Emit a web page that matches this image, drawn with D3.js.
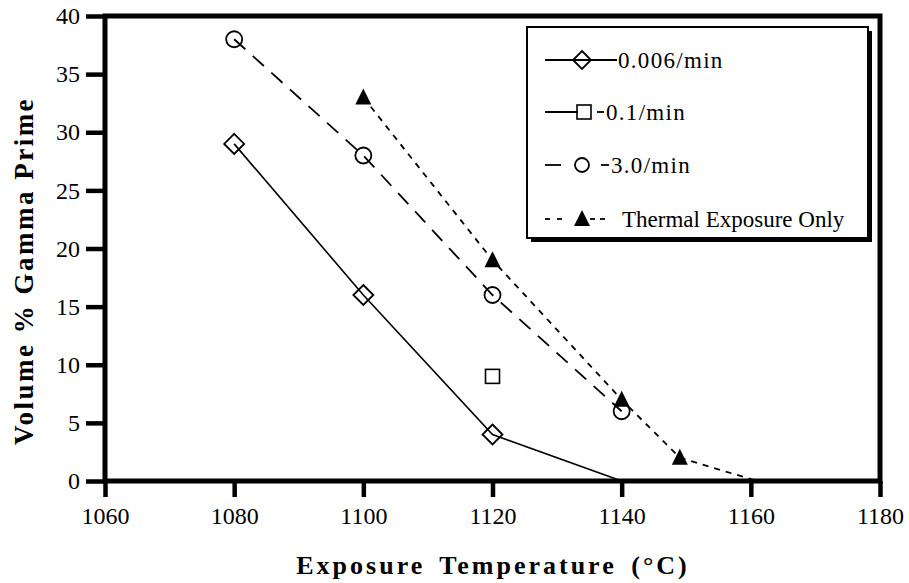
<!DOCTYPE html>
<html><head><meta charset="utf-8">
<script src="https://cdn.jsdelivr.net/npm/d3@7/dist/d3.min.js"></script>
<style>body{margin:0;background:#fff}svg{display:block}</style>
</head><body>
<script>
const xTicks = [1060,1080,1100,1120,1140,1160,1180];
const yTicks = [0,5,10,15,20,25,30,35,40];
const seriesNames = ["0.006/min","0.1/min","3.0/min","Thermal Exposure Only"];
const slowTemp = [1080,1100,1120,1140];
const slowVal  = [29,16,4,0];
const midTemp  = [1120];
const midVal   = [9];
const fastTemp = [1080,1100,1120,1140];
const fastVal  = [38,28,16,6];
const thermTemp = [1100,1120,1140,1149,1161];
const thermVal  = [33,19,7,2,0];

const W=909,H=583;
const svg=d3.select("body").append("svg").attr("width",W).attr("height",H);
const x=d3.scaleLinear().domain([1060,1180]).range([105,880]);
const y=d3.scaleLinear().domain([0,40]).range([481,16]);
const font="'Liberation Serif','Times New Roman',serif";

// frame
svg.append("rect").attr("x",x(1060)).attr("y",y(40)).attr("width",x(1180)-x(1060)).attr("height",y(0)-y(40))
  .attr("fill","none").attr("stroke","#000").attr("stroke-width",5);

// axes
const yAxis=d3.axisLeft(y).tickValues(yTicks).tickSize(19).tickPadding(6);
const gy=svg.append("g").attr("transform",`translate(${x(1060)},0)`).call(yAxis);
gy.select(".domain").remove();
gy.selectAll("line").attr("stroke-width",4.5);
gy.selectAll("text").style("font-family",font).style("font-size","24px").attr("fill","#000");

const xAxis=d3.axisBottom(x).tickValues(xTicks).tickSize(16).tickPadding(10).tickFormat(d3.format("d"));
const gx=svg.append("g").attr("transform",`translate(0,${y(0)})`).call(xAxis);
gx.select(".domain").remove();
gx.selectAll("line").attr("stroke-width",4.5);
gx.selectAll("text").style("font-family",font).style("font-size","24px").attr("fill","#000");

svg.append("text").attr("x",493).attr("y",574).attr("text-anchor","middle")
  .style("font-family",font).style("font-weight","bold").style("font-size","26px")
  .style("letter-spacing","3px").style("word-spacing","5px")
  .text("Exposure Temperature (°C)");
svg.append("text").attr("transform","translate(33,271) rotate(-90)").attr("text-anchor","middle")
  .style("font-family",font).style("font-weight","bold").style("font-size","27px")
  .style("letter-spacing","2.5px")
  .text("Volume % Gamma Prime");

const line=d3.line().x(d=>x(d[0])).y(d=>y(d[1]));
const zip=(a,b)=>a.map((v,i)=>[v,b[i]]);
const slow=zip(slowTemp,slowVal), mid=zip(midTemp,midVal), fast=zip(fastTemp,fastVal), therm=zip(thermTemp,thermVal);

svg.append("path").attr("d",line(slow)).attr("fill","none").attr("stroke","#000").attr("stroke-width",1.6);
svg.append("path").attr("d",line(fast)).attr("fill","none").attr("stroke","#000").attr("stroke-width",1.8).attr("stroke-dasharray","15,10");
svg.append("path").attr("d",line(therm)).attr("fill","none").attr("stroke","#000").attr("stroke-width",1.8).attr("stroke-dasharray","6,6");

const diamond=(g,cx,cy,r=10)=>g.append("path").attr("d",`M${cx},${cy-r}L${cx+r},${cy}L${cx},${cy+r}L${cx-r},${cy}Z`)
  .attr("fill","none").attr("stroke","#000").attr("stroke-width",1.8);
const square=(g,cx,cy)=>g.append("rect").attr("x",cx-7).attr("y",cy-7).attr("width",14).attr("height",14)
  .attr("fill","none").attr("stroke","#000").attr("stroke-width",1.6);
const circle=(g,cx,cy,r=8)=>g.append("circle").attr("cx",cx).attr("cy",cy).attr("r",r)
  .attr("fill","none").attr("stroke","#000").attr("stroke-width",1.8);
const tri=(g,cx,cy)=>g.append("path").attr("d",`M${cx},${cy-9}L${cx+8},${cy+7}L${cx-8},${cy+7}Z`).attr("fill","#000");

slow.slice(0,3).forEach(d=>diamond(svg,x(d[0]),y(d[1])));
mid.forEach(d=>square(svg,x(d[0]),y(d[1])));
fast.forEach(d=>circle(svg,x(d[0]),y(d[1])));
therm.slice(0,4).forEach(d=>tri(svg,x(d[0]),y(d[1])));

// legend
const lg=svg.append("g");
lg.append("rect").attr("x",531).attr("y",31).attr("width",341).attr("height",211).attr("fill","#000");
lg.append("rect").attr("x",527).attr("y",27).attr("width",341).attr("height",211).attr("fill","#fff").attr("stroke","#000").attr("stroke-width",2);
const rows=[60,112,165,219];
const seg=(x1,x2,yy)=>lg.append("line").attr("x1",x1).attr("x2",x2).attr("y1",yy).attr("y2",yy).attr("stroke","#000").attr("stroke-width",1.8);
const ltext=(tx,yy,t,ls)=>lg.append("text").attr("x",tx).attr("y",yy+8).style("font-family",font).style("font-size","23px")
  .style("letter-spacing",ls+"px").text(t);
// row1
seg(545,617,rows[0]); diamond(lg,582,rows[0],9); ltext(618,rows[0],seriesNames[0],1.3);
// row2
seg(545,578,rows[1]); square(lg,584,rows[1]); seg(597,604,rows[1]); ltext(606,rows[1],seriesNames[1],1.3);
// row3
seg(545,561,rows[2]); circle(lg,582,rows[2],7); seg(601,609,rows[2]); ltext(611,rows[2],seriesNames[2],1.3);
// row4
seg(545,550,rows[3]); seg(557,562,rows[3]); tri(lg,582,rows[3]); seg(590,595,rows[3]); seg(600,605,rows[3]); ltext(622,rows[3],seriesNames[3],0);
</script>
</body></html>
